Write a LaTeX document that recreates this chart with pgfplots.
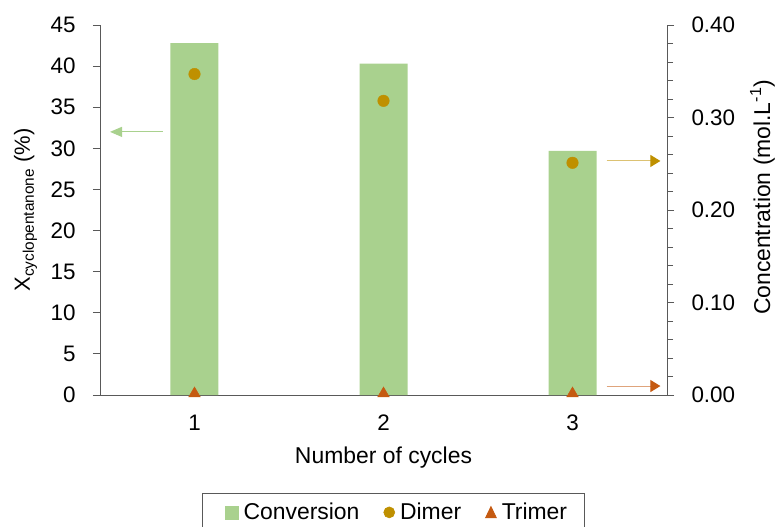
\documentclass[border=0pt]{standalone}
\usepackage{fontspec}
\setmainfont{Liberation Sans}
\usepackage{pgfplots}
\pgfplotsset{compat=1.18}
\usetikzlibrary{arrows.meta}

\definecolor{conv}{HTML}{A9D18E}
\definecolor{dimer}{HTML}{BF9000}
\definecolor{trimer}{HTML}{C55A11}
\definecolor{axisgray}{HTML}{595959}

\pgfplotsset{
  every axis/.append style={
    scale only axis, width=567bp, height=370bp,
    xmin=0.5, xmax=3.5,
    font=\fontsize{22.5}{26}\selectfont,
    /pgf/number format/assume math mode=true,
    axis line style={axisgray, line width=0.8pt},
    tick style={axisgray, line width=0.8pt},
    tick align=outside,
    major tick length=7bp, minor tick length=6bp,
  },
}

\begin{document}
\begin{tikzpicture}
\path[use as bounding box] (-100bp,-132bp) rectangle (676bp,395bp);

% conversion bars on the left axis
\begin{axis}[
  at={(0,0)}, anchor=south west,
  axis y line*=left, axis x line*=bottom,
  ymin=0, ymax=45, ytick={0,5,...,45},
  yticklabel style={anchor=east, xshift=-14bp},
  xtick={1,2,3}, x tick style={draw=none},
  xticklabel style={anchor=base, yshift=-28bp},
  xlabel={Number of cycles},
  xlabel style={at={(axis description cs:0.5,0)}, anchor=base, yshift=-68bp,
    font=\fontsize{23}{27}\selectfont},
  ylabel={X\textsubscript{cyclopentanone} (\%)},
  ylabel style={at={(axis description cs:0,0.5)}, anchor=base, yshift=70bp,
    font=\fontsize{22}{26}\selectfont},
]
\addplot[ybar, bar width=48bp, fill=conv, draw=none] coordinates {(1,42.8) (2,40.3) (3,29.7)};
\draw[conv, line width=1pt, -{Triangle[length=12bp, width=10bp]}] (axis cs:0.833,32) -- (axis cs:0.553,32);
\end{axis}

% product concentrations on the right axis
\begin{axis}[
  at={(0,0)}, anchor=south west,
  axis y line*=right, axis x line=none,
  ymin=0, ymax=0.4, ytick={0,0.1,0.2,0.3,0.4},
  minor y tick num=4,
  yticklabel style={anchor=west, xshift=14bp,
    /pgf/number format/.cd, fixed, fixed zerofill, precision=2},
  ylabel={Concentration (mol.L\textsuperscript{-1})},
  ylabel style={at={(axis description cs:1,0.534)}, anchor=base, yshift=-103bp,
    font=\fontsize{23}{27}\selectfont},
  clip=false,
  legend columns=3,
  legend style={at={(0.5168,-0.265)}, anchor=north, draw=axisgray, line width=0.6pt,
    font=\fontsize{23}{27}\selectfont, inner xsep=15bp, inner ysep=8bp,
    nodes={inner xsep=2bp},
    /tikz/every odd column/.append style={column sep=3bp},
    /tikz/every even column/.append style={column sep=22bp}},
]
\addlegendimage{legend image code/.code={\path (0bp,0bp); \fill[conv] (8bp,-6.5bp) rectangle (21bp,6.5bp);}}
\addlegendentry{Conversion}
\addplot[only marks, mark=*, mark size=5.8bp, dimer,
  legend image code/.code={\fill[dimer] (5.5bp,0bp) circle (5.5bp);}]
  coordinates {(1,0.347) (2,0.318) (3,0.251)};
\addlegendentry{Dimer}
\addplot[only marks, mark=triangle*, mark size=6.7bp, trimer,
  legend image code/.code={\fill[trimer] (0bp,-5.5bp) -- (11bp,-5.5bp) -- (5.5bp,6bp) -- cycle;}]
  coordinates {(1,0.0015) (2,0.0015) (3,0.0015)};
\addlegendentry{Trimer}
\draw[dimer!55, line width=1pt, -{Triangle[length=10bp, width=12bp, color=dimer]}] (axis cs:3.18,0.253) -- (axis cs:3.465,0.253);
\draw[trimer!55, line width=1pt, -{Triangle[length=10bp, width=12bp, color=trimer]}] (axis cs:3.18,0.0097) -- (axis cs:3.465,0.0097);
\end{axis}
\end{tikzpicture}
\end{document}
